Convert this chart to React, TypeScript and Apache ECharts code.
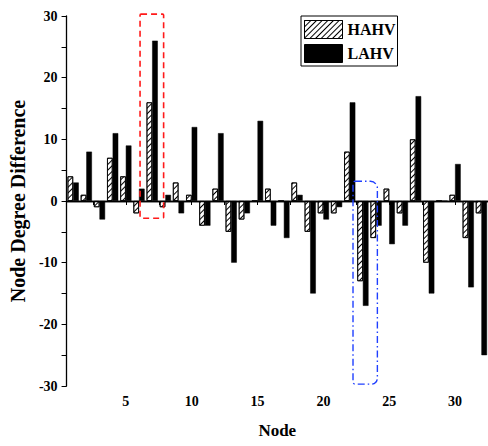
import React, { useEffect, useRef } from "react";
import * as echarts from "echarts";

const nodes = [1,2,3,4,5,6,7,8,9,10,11,12,13,14,15,16,17,18,19,20,21,22,23,24,25,26,27,28,29,30,31,32];
const hahv = [4,1,-1,7,4,-2,16,-1,3,1,-4,2,-5,-3,0,2,0,3,-5,-2,-2,8,-13,-6,2,-2,10,-10,0,1,-6,-2];
const lahv = [3,8,-3,11,9,2,26,1,-2,12,-4,11,-10,-2,13,-4,-6,1,-15,-3,-1,16,-17,-4,-7,-4,17,-15,0,6,-14,-25];
const xTicks = [2.5,5,7.5,10,12.5,15,17.5,20,22.5,25,27.5,30,32.5];
const xLabels = [5,10,15,20,25,30];
const yLabels = [-30,-20,-10,0,10,20,30];
// annotation boxes in data coordinates [x1, y1, x2, y2]
const redBox = [6.08, 30.3, 7.87, -2.8];
const blueBox = [22.25, 3.2, 24.1, -29.7];

const FONT = "'Liberation Serif', 'Times New Roman', serif";

const hatch = {
  symbol: "rect",
  symbolSize: 1,
  color: "#000",
  dashArrayX: [1, 0],
  dashArrayY: [1, 2.6],
  rotation: -Math.PI / 4,
};

export default function App() {
  const ref = useRef<HTMLDivElement>(null);
  useEffect(() => {
    const chart = echarts.init(ref.current!, null, { renderer: "svg" });
    chart.setOption({
      animation: false,
      backgroundColor: "#fff",
      grid: { left: 65.5, right: 0, top: 16, bottom: 60, containLabel: false },
      legend: {
        orient: "vertical",
        left: 301,
        top: 16,
        padding: [4, 2, 3, 3],
        itemWidth: 38,
        itemHeight: 18,
        itemGap: 5,
        borderColor: "#000",
        borderWidth: 1,
        icon: "rect",
        textStyle: { fontFamily: FONT, fontWeight: "bold", fontSize: 16, color: "#000" },
        data: [
          { name: "HAHV", itemStyle: { color: "#fff", borderColor: "#000", borderWidth: 1, decal: hatch } },
          { name: "LAHV", itemStyle: { color: "#000", borderColor: "#000", borderWidth: 1 } },
        ],
      },
      xAxis: {
        type: "value",
        min: 0.5,
        max: 32.5,
        name: "Node",
        nameLocation: "middle",
        nameGap: 36,
        nameTextStyle: { fontFamily: FONT, fontWeight: "bold", fontSize: 17, color: "#000" },
        axisLine: { show: true, lineStyle: { color: "#000", width: 1.3 } },
        axisTick: { show: true, length: 4, customValues: xTicks, lineStyle: { color: "#000", width: 1 } },
        axisLabel: {
          customValues: xLabels,
          margin: 8,
          fontFamily: FONT,
          fontWeight: "bold",
          fontSize: 14,
          color: "#000",
        },
        splitLine: { show: false },
      },
      yAxis: {
        type: "value",
        min: -30,
        max: 30,
        interval: 5,
        name: "Node Degree Difference",
        nameLocation: "middle",
        nameGap: 30,
        nameTextStyle: { fontFamily: FONT, fontWeight: "bold", fontSize: 20, color: "#000" },
        axisLine: { show: true, lineStyle: { color: "#000", width: 1.3 } },
        axisTick: { show: true, length: 5, lineStyle: { color: "#000", width: 1 } },
        axisLabel: {
          customValues: yLabels,
          margin: 9,
          fontFamily: FONT,
          fontWeight: "bold",
          fontSize: 14,
          color: "#000",
        },
        splitLine: { show: false },
      },
      series: [
        {
          name: "HAHV",
          type: "bar",
          barWidth: 5.6,
          barGap: "0%",
          data: nodes.map((n, i) => [n, hahv[i]]),
          itemStyle: { color: "#fff", borderColor: "#000", borderWidth: 0.8, decal: hatch },
        },
        {
          name: "LAHV",
          type: "bar",
          barWidth: 5.6,
          barGap: "0%",
          data: nodes.map((n, i) => [n, lahv[i]]),
          itemStyle: { color: "#000", borderColor: "#000", borderWidth: 0.5 },
          markLine: {
            silent: true,
            symbol: "none",
            label: { show: false },
            lineStyle: { color: "#000", width: 1.3, type: "solid" },
            data: [{ yAxis: 0 }],
          },
        },
      ],
    });
    const p = (x: number, y: number) =>
      chart.convertToPixel({ xAxisIndex: 0, yAxisIndex: 0 }, [x, y]) as number[];
    const box = (b: number[]) => {
      const a = p(b[0], b[1]);
      const c = p(b[2], b[3]);
      return { x: a[0], y: a[1], width: c[0] - a[0], height: c[1] - a[1] };
    };
    chart.setOption({
      graphic: [
        {
          type: "rect",
          silent: true,
          z: 100,
          shape: { ...box(redBox), r: 1 },
          style: { fill: "none", stroke: "#ff1a1a", lineWidth: 1.6, lineDash: [6, 4] },
        },
        {
          type: "rect",
          silent: true,
          z: 100,
          shape: { ...box(blueBox), r: [2, 7, 6, 2] },
          style: { fill: "none", stroke: "#1f3fff", lineWidth: 1.4, lineDash: [7, 3, 1.5, 3] },
        },
      ],
    });
    return () => chart.dispose();
  }, []);
  return (
    <div
      ref={ref}
      style={{ position: "fixed", left: 0, top: 0, width: 488, height: 446 }}
    />
  );
}
